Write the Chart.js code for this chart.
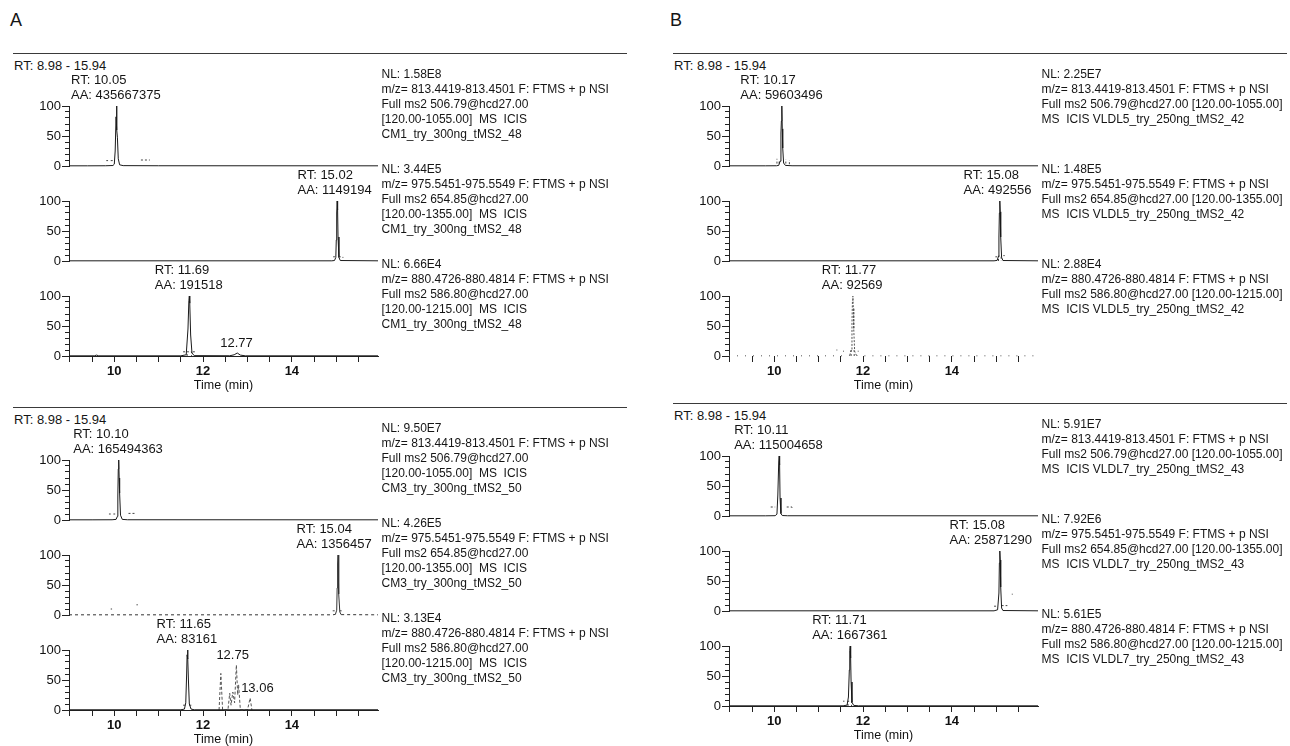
<!DOCTYPE html>
<html><head><meta charset="utf-8">
<script src="https://cdn.jsdelivr.net/npm/chart.js@4.4.1/dist/chart.umd.min.js"></script>
<style>
html,body{margin:0;padding:0;background:#fff;}
body{width:1290px;height:746px;overflow:hidden;position:relative;font-family:"Liberation Sans",Arial,Helvetica,sans-serif;color:#151515;}
canvas{position:absolute;}
.txt{position:absolute;white-space:pre;font-size:12px;line-height:15px;}
.lbl{position:absolute;white-space:pre;font-size:13px;line-height:15px;}
.sep{position:absolute;height:0;border-top:1px solid #3a3a3a;}
.letter{position:absolute;font-size:18px;line-height:20px;}
</style></head><body>
<script>
// ---------------- shared axis values ----------------
const timeRange = [8.98, 15.94];
const timeTicks = [9, 9.5, 10, 10.5, 11, 11.5, 12, 12.5, 13, 13.5, 14, 14.5, 15, 15.5];
const timeTickLabels = [10, 12, 14];
const intensityTicks = [0, 10, 20, 30, 40, 50, 60, 70, 80, 90, 100];
const intensityTickLabels = [0, 50, 100];
const rangeText = "RT: 8.98 - 15.94";
const timeTitle = "Time (min)";

// ---------------- shared trace descriptions ----------------
const mzFilters = ["m/z= 813.4419-813.4501 F: FTMS + p NSI", "m/z= 975.5451-975.5549 F: FTMS + p NSI", "m/z= 880.4726-880.4814 F: FTMS + p NSI"];
const ms2Precursors = ["Full ms2 506.79@hcd27.00", "Full ms2 654.85@hcd27.00", "Full ms2 586.80@hcd27.00"];
const scanRanges = ["[120.00-1055.00]", "[120.00-1355.00]", "[120.00-1215.00]"];
const samplesA = ["CM1_try_300ng_tMS2_48", "CM3_try_300ng_tMS2_50"];
const samplesB = ["VLDL5_try_250ng_tMS2_42", "VLDL7_try_250ng_tMS2_43"];

// ---------------- panel A, top (CM1) ----------------
const A1_NL = ["1.58E8", "3.44E5", "6.66E4"];
const A1_RT = [10.05, 15.02, 11.69];
const A1_AA = ["435667375", "1149194", "191518"];
const A1_t1_time = [8.98, 9.40, 9.80, 9.97, 10.00, 10.02, 10.04, 10.05, 10.06, 10.07, 10.09, 10.12, 10.20, 11.00, 15.94];
const A1_t1_int  = [0.3, 0.3, 0.4, 0.8, 3, 25, 82, 100, 60, 48, 12, 2, 0.6, 0.4, 0.3];
const A1_t1_marks = [[9.82, 9], [9.86, 9], null, [9.92, 9], [9.97, 9], null, [10.60, 10], [10.80, 10]];
const A1_t2_time = [8.98, 14.90, 14.96, 14.99, 15.00, 15.01, 15.02, 15.03, 15.04, 15.06, 15.09, 15.94];
const A1_t2_int  = [0.3, 0.3, 0.8, 6, 35, 80, 100, 85, 40, 6, 0.8, 0.3];
const A1_t2_marks = [[14.93, 7], [14.97, 7], null, [15.07, 7], [15.10, 7], null, [15.14, 6], [15.16, 6]];
const A1_t3_time = [8.98, 9.55, 9.60, 9.65, 11.50, 11.62, 11.66, 11.68, 11.69, 11.70, 11.72, 11.75, 11.80, 12.60, 12.70, 12.77, 12.84, 12.95, 15.94];
const A1_t3_int  = [0.3, 0.3, 1.5, 0.3, 0.3, 2, 45, 92, 100, 88, 35, 5, 0.6, 0.4, 2, 5, 1.5, 0.3, 0.3];
const A1_t3_marks = [[11.64, 0], [11.64, 7], [11.74, 7], [11.74, 0], null, [11.55, 7], [11.61, 7], null, [11.77, 7], [11.82, 7]];
const A1_t3_peakLabels = [[12.77, 5]];

// ---------------- panel A, bottom (CM3) ----------------
const A2_NL = ["9.50E7", "4.26E5", "3.13E4"];
const A2_RT = [10.10, 15.04, 11.65];
const A2_AA = ["165494363", "1356457", "83161"];
const A2_t1_time = [8.98, 9.50, 9.95, 10.04, 10.07, 10.08, 10.09, 10.10, 10.11, 10.12, 10.14, 10.18, 10.30, 15.94];
const A2_t1_int  = [0.3, 0.3, 0.4, 1, 6, 40, 85, 100, 70, 45, 8, 1, 0.4, 0.3];
const A2_t1_marks = [[9.88, 10], [9.92, 10], null, [9.98, 10], [10.02, 10], null, [10.32, 11], [10.50, 11]];
const A2_t2_time = [8.98, 14.92, 14.98, 15.01, 15.02, 15.03, 15.04, 15.05, 15.06, 15.08, 15.11, 15.94];
const A2_t2_int  = [0.3, 0.3, 1, 8, 45, 85, 100, 80, 35, 5, 0.6, 0.3];
const A2_t2_marks = [[14.92, 7], [14.98, 7], null, [15.08, 7], [15.12, 7], null, [9.92, 10], [9.95, 10], null, [10.50, 17], [10.53, 17]];
const A2_t3_time = [8.98, 11.50, 11.58, 11.61, 11.63, 11.64, 11.65, 11.66, 11.67, 11.69, 11.73, 11.80, 15.94];
const A2_t3_int  = [0.4, 0.4, 1.5, 12, 60, 92, 100, 85, 50, 10, 1.5, 0.4, 0.4];
const A2_t3_minorTime = [12.36, 12.40, 12.44, 12.56, 12.60, 12.63, 12.67, 12.71, 12.75, 12.78, 12.80, 12.84, 13.00, 13.06, 13.10];
const A2_t3_minorInt  = [0, 61, 0, 0, 28, 8, 30, 12, 75, 25, 42, 0, 0, 20, 0];
const A2_t3_marks = [[11.55, 8], [11.60, 8], null, [11.69, 8], [11.74, 8]];
const A2_t3_peakLabels = [[12.75, 75], [13.06, 20]];

// ---------------- panel B, top (VLDL5) ----------------
const B1_NL = ["2.25E7", "1.48E5", "2.88E4"];
const B1_RT = [10.17, 15.08, 11.77];
const B1_AA = ["59603496", "492556", "92569"];
const B1_t1_time = [8.98, 9.80, 10.05, 10.10, 10.13, 10.15, 10.16, 10.17, 10.18, 10.19, 10.21, 10.25, 10.40, 15.94];
const B1_t1_int  = [0.3, 0.3, 0.4, 1, 8, 55, 75, 100, 62, 30, 5, 1, 0.4, 0.3];
const B1_t1_marks = [[10.06, 4], [10.06, 12], null, [10.11, 4], [10.11, 10], null, [10.26, 4], [10.26, 11], null, [10.34, 3], [10.34, 10]];
const B1_t2_time = [8.98, 14.95, 15.02, 15.05, 15.06, 15.07, 15.08, 15.09, 15.10, 15.12, 15.15, 15.94];
const B1_t2_int  = [0.3, 0.3, 1, 8, 40, 80, 100, 82, 40, 6, 0.8, 0.3];
const B1_t2_marks = [[14.98, 7], [15.02, 7], null, [15.05, 0], [15.05, 8], [15.11, 8], [15.11, 0], null, [15.16, 9], [15.19, 9]];
const B1_t3_time = [8.98, 11.60, 11.70, 11.73, 11.75, 11.76, 11.77, 11.78, 11.79, 11.81, 11.85, 11.95, 15.94];
const B1_t3_int  = [0.3, 0.3, 1, 10, 55, 90, 100, 80, 45, 8, 1, 0.3, 0.3];
const B1_t3_marks = [[11.73, 0], [11.73, 9], [11.80, 9], [11.80, 0], null, [11.40, 10], [11.42, 10], null, [11.55, 8], [11.57, 8], null, [11.88, 8], [11.90, 8]];

// ---------------- panel B, bottom (VLDL7) ----------------
const B2_NL = ["5.91E7", "7.92E6", "5.61E5"];
const B2_RT = [10.11, 15.08, 11.71];
const B2_AA = ["115004658", "25871290", "1667361"];
const B2_t1_time = [8.98, 9.80, 10.02, 10.06, 10.08, 10.10, 10.11, 10.12, 10.13, 10.15, 10.18, 10.30, 15.94];
const B2_t1_int  = [0.3, 0.3, 0.5, 3, 35, 90, 100, 85, 30, 4, 0.8, 0.4, 0.3];
const B2_t1_marks = [[9.92, 15], [10.02, 15], null, [10.28, 15], [10.40, 15], [10.40, 12]];
const B2_t2_time = [8.98, 14.95, 15.03, 15.06, 15.07, 15.08, 15.09, 15.10, 15.12, 15.15, 15.94];
const B2_t2_int  = [0.3, 0.3, 2, 30, 80, 100, 85, 40, 5, 0.8, 0.3];
const B2_t2_marks = [[14.95, 8], [15.02, 8], null, [15.12, 9], [15.25, 9], null, [15.35, 28], [15.37, 28]];
const B2_t3_time = [8.98, 11.55, 11.64, 11.67, 11.69, 11.70, 11.71, 11.72, 11.73, 11.75, 11.79, 11.90, 15.94];
const B2_t3_int  = [0.3, 0.3, 1.5, 15, 60, 92, 100, 80, 40, 6, 1, 0.3, 0.3];
const B2_t3_marks = [[11.55, 8], [11.58, 8], null, [11.66, 0], [11.66, 8], [11.74, 8], [11.74, 0]];

// ---------------- layout (positions only) ----------------
const geo = { plotLeft: 68.5, plotRight: 377.5, sepY: 53, sepX: [13, 627], rangeY: 65, y100: [106, 201, 296], traceH: 60 };
const panels = [
  { letter: 'A', dx: 0,   dy: 0,   fmt: 'A', sample: samplesA[0], NL: A1_NL, RT: A1_RT, AA: A1_AA,
    traces: [ {time: A1_t1_time, int: A1_t1_int, marks: A1_t1_marks},
              {time: A1_t2_time, int: A1_t2_int, marks: A1_t2_marks},
              {time: A1_t3_time, int: A1_t3_int, marks: A1_t3_marks, peakLabels: A1_t3_peakLabels} ] },
  { letter: null, dx: 0,  dy: 354, fmt: 'A', sample: samplesA[1], NL: A2_NL, RT: A2_RT, AA: A2_AA,
    traces: [ {time: A2_t1_time, int: A2_t1_int, marks: A2_t1_marks},
              {time: A2_t2_time, int: A2_t2_int, marks: A2_t2_marks, dashBase: true},
              {time: A2_t3_time, int: A2_t3_int, marks: A2_t3_marks, minorTime: A2_t3_minorTime, minorInt: A2_t3_minorInt, peakLabels: A2_t3_peakLabels, labelNudge: [-3, 8]} ] },
  { letter: 'B', dx: 660, dy: 0,   fmt: 'B', sample: samplesB[0], NL: B1_NL, RT: B1_RT, AA: B1_AA,
    traces: [ {time: B1_t1_time, int: B1_t1_int, marks: B1_t1_marks},
              {time: B1_t2_time, int: B1_t2_int, marks: B1_t2_marks},
              {time: B1_t3_time, int: B1_t3_int, marks: B1_t3_marks, dotted: true, noAxisLine: true} ] },
  { letter: null, dx: 660, dy: 350, fmt: 'B', sample: samplesB[1], NL: B2_NL, RT: B2_RT, AA: B2_AA,
    traces: [ {time: B2_t1_time, int: B2_t1_int, marks: B2_t1_marks},
              {time: B2_t2_time, int: B2_t2_int, marks: B2_t2_marks},
              {time: B2_t3_time, int: B2_t3_int, marks: B2_t3_marks} ] }
];

// ---------------- rendering ----------------
Chart.defaults.font.family = '"Liberation Sans", Arial, sans-serif';
Chart.defaults.color = '#151515';
const body = document.body;

function addDiv(cls, text, left, top) {
  const d = document.createElement('div');
  d.className = cls; d.textContent = text;
  d.style.left = left + 'px'; d.style.top = top + 'px';
  body.appendChild(d); return d;
}
function pts(t, v) { return t.map((x, i) => ({x: x, y: v[i]})); }
function markPts(m) {
  const out = []; let lastX = timeRange[0];
  m.forEach(p => { if (p === null) out.push({x: lastX, y: null}); else { out.push({x: p[0], y: p[1]}); lastX = p[0]; } });
  return out;
}

const majorTickPlugin = {
  id: 'majorTicks',
  afterDraw(chart) {
    const ctx = chart.ctx, ys = chart.scales.y, a = chart.chartArea;
    ctx.save(); ctx.strokeStyle = '#222'; ctx.lineWidth = 1;
    intensityTickLabels.forEach(v => {
      const py = Math.round(ys.getPixelForValue(v)) + 0.5;
      ctx.beginPath(); ctx.moveTo(a.left - 7, py); ctx.lineTo(a.left, py); ctx.stroke();
    });
    ctx.restore();
  }
};

const Y_AXIS_W = 44, PAD_TOP = 9, X_AXIS_H = 37, PAD_R = 4, PAD_B = 8;

function makeTrace(p, ti) {
  const tr = p.traces[ti];
  const isBottom = ti === p.traces.length - 1;
  const plotLeft = geo.plotLeft + p.dx, plotRight = geo.plotRight + p.dx;
  const y100 = geo.y100[ti] + p.dy;
  const left = plotLeft - Y_AXIS_W, top = y100 - PAD_TOP;
  const width = Math.round(plotRight - plotLeft + Y_AXIS_W + PAD_R);
  const height = PAD_TOP + geo.traceH + (isBottom ? X_AXIS_H : PAD_B);
  const cv = document.createElement('canvas');
  cv.width = width; cv.height = height;
  cv.style.left = left + 'px'; cv.style.top = top + 'px';
  cv.style.width = width + 'px'; cv.style.height = height + 'px';
  body.appendChild(cv);

  const datasets = [];
  const main = { data: pts(tr.time, tr.int), borderColor: '#1a1a1a', borderWidth: 1, pointRadius: 0, tension: 0, clip: 6 };
  if (tr.dashBase) {
    main.borderColor = '#333';
    main.segment = { borderDash: c => (c.p0.parsed.y < 3 && c.p1.parsed.y < 3) ? [3, 3] : undefined };
  }
  if (tr.dotted) {
    main.borderColor = '#555';
    main.segment = { borderDash: c => (c.p0.parsed.y < 3 && c.p1.parsed.y < 3) ? [1, 7] : [2, 1.5] };
  }
  datasets.push(main);
  if (tr.minorTime) datasets.push({ data: pts(tr.minorTime, tr.minorInt), borderColor: '#555', borderDash: [3, 2], borderWidth: 1, pointRadius: 0, tension: 0, clip: 6 });
  if (tr.marks) datasets.push({ data: markPts(tr.marks), borderColor: '#444', borderDash: [2, 2], borderWidth: 1, pointRadius: 0, tension: 0, spanGaps: false, clip: 6 });

  const chart = new Chart(cv, {
    type: 'line',
    data: { datasets: datasets },
    options: {
      responsive: false, devicePixelRatio: 1, animation: false, events: [],
      layout: { padding: { top: PAD_TOP, right: PAD_R, bottom: isBottom ? 0 : PAD_B, left: 0 } },
      plugins: { legend: { display: false }, tooltip: { enabled: false } },
      scales: {
        x: {
          type: 'linear', min: timeRange[0], max: timeRange[1], display: isBottom,
          afterBuildTicks: s => { s.ticks = timeTicks.map(v => ({ value: v })); },
          afterFit: s => { s.height = isBottom ? X_AXIS_H : 0; s.paddingLeft = 0; s.paddingRight = 0; },
          ticks: { autoSkip: false, maxRotation: 0, padding: 2, font: { size: 13, weight: 'bold' }, color: '#111',
                   callback: v => timeTickLabels.includes(v) ? String(v) : '' },
          grid: { drawOnChartArea: false, drawTicks: true, tickLength: 6, color: '#222' },
          border: { display: !tr.noAxisLine, color: '#222', width: 1 },
          title: { display: true, text: timeTitle, padding: { top: 0, bottom: 0 }, font: { size: 12.5 }, color: '#111' }
        },
        y: {
          type: 'linear', min: 0, max: 100,
          afterBuildTicks: s => { s.ticks = intensityTicks.map(v => ({ value: v })); },
          afterFit: s => { s.width = Y_AXIS_W; s.paddingTop = 0; s.paddingBottom = 0; },
          ticks: { autoSkip: false, padding: 4, font: { size: 13 }, color: '#111',
                   callback: v => intensityTickLabels.includes(v) ? String(v) : '' },
          grid: { drawOnChartArea: false, drawTicks: true, tickLength: 4, color: '#222' },
          border: { display: true, color: '#222', width: 1 }
        }
      }
    },
    plugins: [majorTickPlugin]
  });

  // retention-time / area labels, centred on the peak via the chart's scales
  const xs = chart.scales.x, ys = chart.scales.y;
  const rt = p.RT[ti];
  const block = addDiv('lbl', 'RT: ' + rt.toFixed(2) + '\nAA: ' + p.AA[ti], 0, 0);
  const w = block.offsetWidth;
  let bx = left + xs.getPixelForValue(rt) - w / 2;
  if (bx + w > plotRight - 6) bx = plotRight - 6 - w;
  const topY = top + ys.getPixelForValue(100);
  block.style.left = bx + 'px';
  block.style.top = (topY - 27 - 7.5) + 'px';

  if (tr.peakLabels) {
    tr.peakLabels.forEach((pl, k) => {
      const d = addDiv('lbl', pl[0].toFixed(2), 0, 0);
      const nudge = tr.labelNudge ? tr.labelNudge[k] : 0;
      d.style.left = (left + xs.getPixelForValue(pl[0]) - d.offsetWidth / 2 + nudge) + 'px';
      d.style.top = (top + ys.getPixelForValue(pl[1]) - 11 - 7.5) + 'px';
    });
  }

  // NL / filter description block to the right
  const lines = p.fmt === 'A'
    ? ['NL: ' + p.NL[ti], mzFilters[ti], ms2Precursors[ti], scanRanges[ti] + '  MS  ICIS', p.sample]
    : ['NL: ' + p.NL[ti], mzFilters[ti], ms2Precursors[ti] + ' ' + scanRanges[ti], 'MS  ICIS ' + p.sample];
  lines.forEach((s, k) => addDiv('txt', s, plotRight + 4, y100 - 32 - 7.5 + k * 15));
}

panels.forEach(p => {
  if (p.letter) addDiv('letter', p.letter, geo.sepX[0] - 3 + p.dx, 10 + p.dy);
  const sep = document.createElement('div');
  sep.className = 'sep';
  sep.style.left = (geo.sepX[0] + p.dx) + 'px';
  sep.style.width = (geo.sepX[1] - geo.sepX[0]) + 'px';
  sep.style.top = (geo.sepY + p.dy) + 'px';
  body.appendChild(sep);
  addDiv('lbl', rangeText, geo.sepX[0] + 1 + p.dx, geo.rangeY + p.dy - 7.5);
  p.traces.forEach((t, i) => makeTrace(p, i));
});
</script>
</body></html>
